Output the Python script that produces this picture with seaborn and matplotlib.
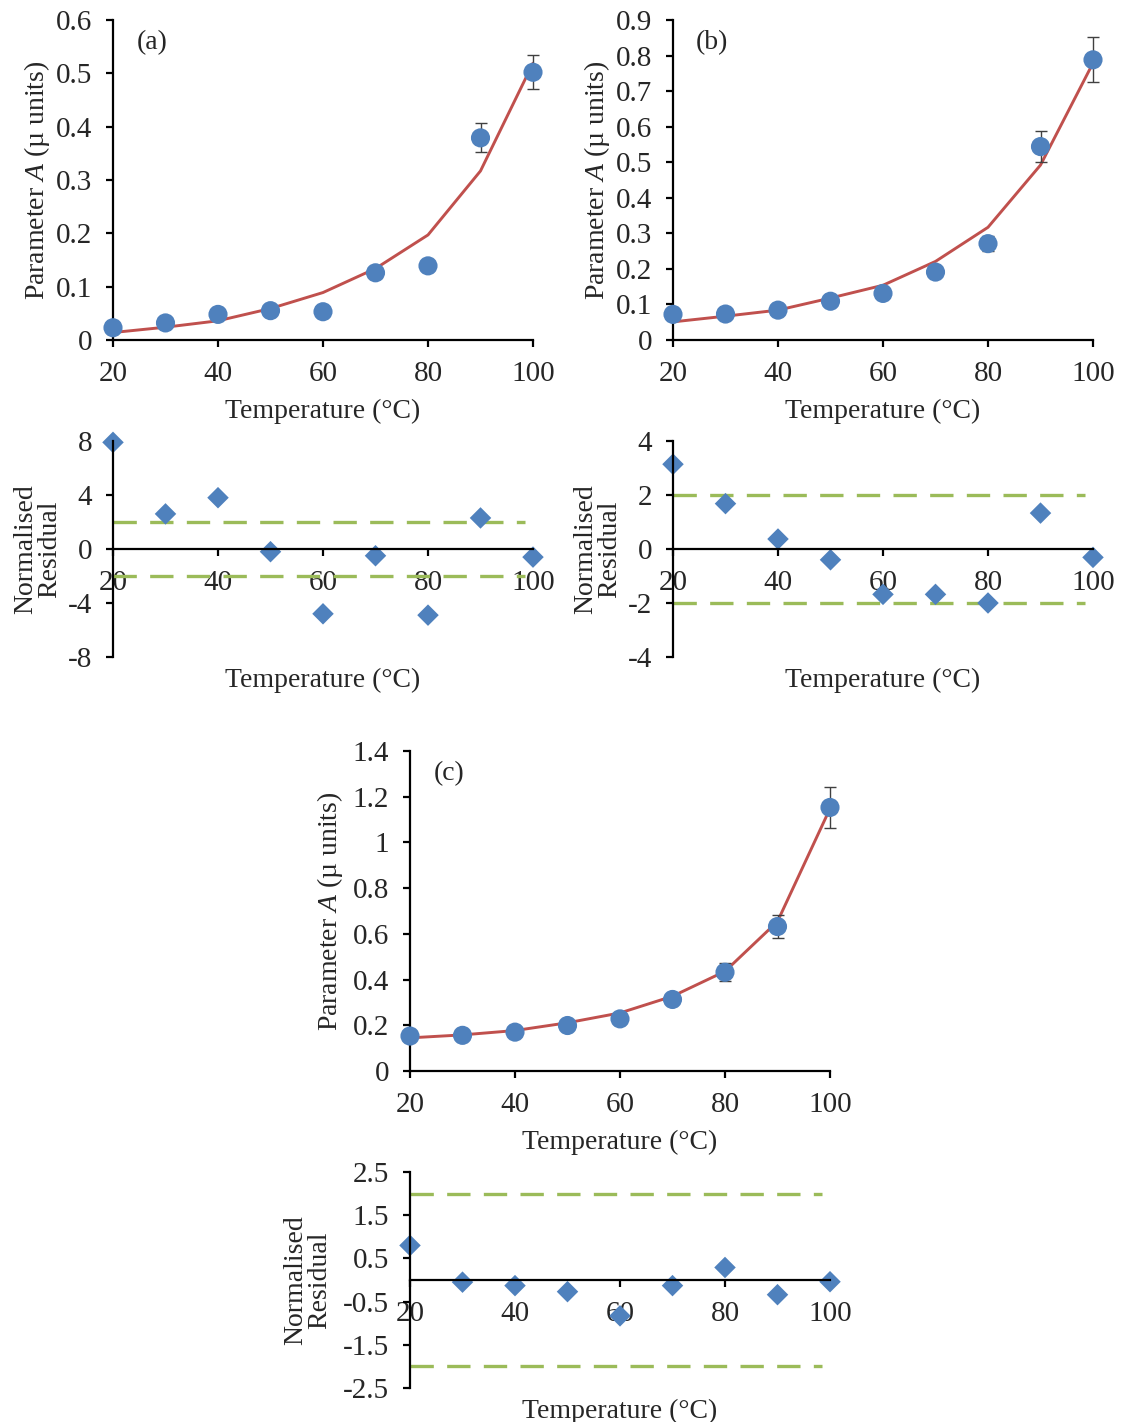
import matplotlib
matplotlib.use("Agg")
import matplotlib.pyplot as plt
import seaborn as sns
import pandas as pd
from matplotlib.ticker import FuncFormatter, MultipleLocator

temps = [20, 30, 40, 50, 60, 70, 80, 90, 100]

# panel (a)
a_meas = [0.023, 0.032, 0.048, 0.055, 0.053, 0.126, 0.139, 0.379, 0.502]
a_err = [0.002, 0.002, 0.002, 0.002, 0.002, 0.009, 0.004, 0.027, 0.032]
a_fit = [0.014, 0.024, 0.036, 0.059, 0.089, 0.134, 0.197, 0.317, 0.519]
a_resid = [7.9, 2.6, 3.8, -0.2, -4.8, -0.5, -4.9, 2.3, -0.6]

# panel (b)
b_meas = [0.072, 0.073, 0.084, 0.109, 0.131, 0.191, 0.271, 0.544, 0.788]
b_err = [0.003, 0.003, 0.003, 0.003, 0.003, 0.005, 0.022, 0.043, 0.063]
b_fit = [0.051, 0.067, 0.084, 0.118, 0.154, 0.221, 0.317, 0.492, 0.779]
b_resid = [3.14, 1.68, 0.37, -0.4, -1.68, -1.68, -2.0, 1.33, -0.31]

# panel (c)
c_meas = [0.153, 0.156, 0.170, 0.199, 0.228, 0.313, 0.432, 0.632, 1.153]
c_err = [0.004, 0.004, 0.004, 0.004, 0.005, 0.008, 0.040, 0.050, 0.090]
c_fit = [0.145, 0.158, 0.177, 0.211, 0.254, 0.327, 0.436, 0.654, 1.148]
c_resid = [0.80, -0.05, -0.13, -0.27, -0.83, -0.13, 0.29, -0.34, -0.04]

BLUE = "#4F81BD"
RED = "#C0504D"
GREEN = "#9BBB59"

sns.set_style("ticks")
plt.rcParams["font.family"] = ["Liberation Serif", "DejaVu Serif"]
plt.rcParams["mathtext.fontset"] = "custom"
plt.rcParams["mathtext.rm"] = "Liberation Serif"
plt.rcParams["mathtext.it"] = "Liberation Serif:italic"
plt.rcParams["axes.unicode_minus"] = False

TICK_FS = 21
LAB_FS = 20

fmt = FuncFormatter(lambda v, p: "{:g}".format(round(v, 3)))

W, H = 1126, 1422


def box(left, top, width, height):
    return [left / W, 1 - (top + height) / H, width / W, height / H]


def style_axis(ax):
    for s in ["top", "right"]:
        ax.spines[s].set_visible(False)
    for s in ["left", "bottom"]:
        ax.spines[s].set_linewidth(1.6)
        ax.spines[s].set_color("black")
    ax.tick_params(direction="out", length=5, width=1.6, labelsize=TICK_FS, color="black")
    ax.tick_params(axis="y", pad=10)
    ax.tick_params(axis="x", pad=10)
    ax.set_xlim(20, 100)
    ax.xaxis.set_major_locator(MultipleLocator(20))
    ax.yaxis.set_major_formatter(fmt)


def main_panel(ax, meas, err, fit, ymax, ystep, tag, ylab_x):
    df = pd.DataFrame({"Temperature": temps, "Measured": meas, "Fit": fit})
    sns.lineplot(data=df, x="Temperature", y="Fit", ax=ax, color=RED, lw=2.1, zorder=2)
    ax.errorbar(temps, meas, yerr=err, fmt="none", ecolor="#404040", elinewidth=1,
                capsize=4, capthick=1, zorder=3, clip_on=False)
    sns.scatterplot(data=df, x="Temperature", y="Measured", ax=ax, color=BLUE, s=190,
                    edgecolor="none", zorder=4, clip_on=False)
    style_axis(ax)
    ax.set_ylim(0, ymax)
    ax.yaxis.set_major_locator(MultipleLocator(ystep))
    ax.set_xlabel("Temperature (°C)", fontsize=LAB_FS)
    ax.xaxis.set_label_coords(0.5, -0.183)
    ax.set_ylabel(r"Parameter $\mathit{A}$ (µ units)", fontsize=LAB_FS)
    ax.yaxis.set_label_coords(ylab_x, 0.5)
    ax.text(0.093, 0.93, tag, transform=ax.transAxes, fontsize=LAB_FS, ha="center", va="center")


def resid_panel(ax, resid, ylim, ystep, ylab_x):
    df = pd.DataFrame({"Temperature": temps, "Residual": resid})
    for lim in (2, -2):
        ax.plot([20, 98.5], [lim, lim], color=GREEN, lw=2.4, dashes=(7, 4), zorder=1)
    sns.scatterplot(data=df, x="Temperature", y="Residual", ax=ax, color=BLUE, marker="D",
                    s=120, edgecolor="none", zorder=1.5, clip_on=False)
    style_axis(ax)
    ax.spines["bottom"].set_position(("data", 0))
    ax.set_ylim(-ylim, ylim)
    ax.yaxis.set_major_locator(MultipleLocator(ystep))
    if ylim == 2.5:
        ax.set_yticks([2.5, 1.5, 0.5, -0.5, -1.5, -2.5])
    ax.set_xlabel("Temperature (°C)", fontsize=LAB_FS)
    ax.xaxis.set_label_coords(0.5, -0.05)
    ax.set_ylabel("Normalised\nResidual", fontsize=LAB_FS, linespacing=0.95)
    ax.yaxis.set_label_coords(ylab_x, 0.5)


fig = plt.figure(figsize=(W / 100, H / 100), dpi=100)

ax_a = fig.add_axes(box(113, 20, 420, 320))
main_panel(ax_a, a_meas, a_err, a_fit, 0.6, 0.1, "(a)", -0.145)
ax_b = fig.add_axes(box(673, 20, 420, 320))
main_panel(ax_b, b_meas, b_err, b_fit, 0.9, 0.1, "(b)", -0.145)
ax_c = fig.add_axes(box(410, 751, 420, 320))
main_panel(ax_c, c_meas, c_err, c_fit, 1.4, 0.2, "(c)", -0.155)

ax_ar = fig.add_axes(box(113, 441, 420, 216))
resid_panel(ax_ar, a_resid, 8, 4, -0.12)
ax_br = fig.add_axes(box(673, 441, 420, 216))
resid_panel(ax_br, b_resid, 4, 2, -0.12)
ax_cr = fig.add_axes(box(410, 1172, 420, 216))
resid_panel(ax_cr, c_resid, 2.5, 1, -0.185)

fig.savefig("out.png", dpi=100, facecolor="white")
